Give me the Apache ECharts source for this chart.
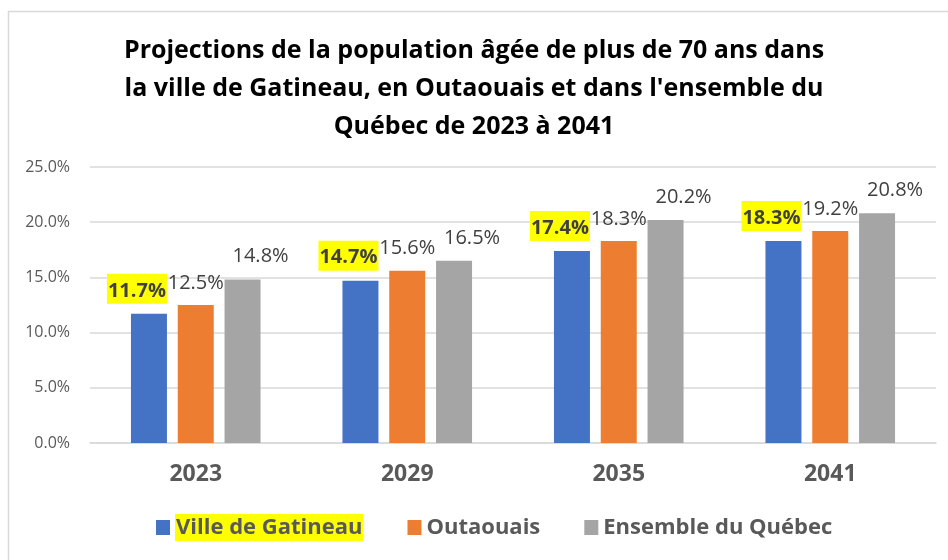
<!DOCTYPE html>
<html>
<head>
<meta charset="utf-8">
<script src="https://cdn.jsdelivr.net/npm/echarts@6/dist/echarts.min.js"></script>
<style>
  html, body { margin: 0; padding: 0; background: #fff; }
  #chart { width: 948px; height: 560px; }
</style>
</head>
<body>
<div id="chart"></div>
<script>
const years = ['2023', '2029', '2035', '2041']
const gatineau = [11.7, 14.7, 17.4, 18.3]
const outaouais = [12.5, 15.6, 18.3, 19.2]
const quebec = [14.8, 16.5, 20.2, 20.8]
const seriesNames = ['Ville de Gatineau', 'Outaouais', 'Ensemble du Québec']

const font = 'Open Sans'
const chart = echarts.init(document.getElementById('chart'))

const pct = p => p.value.toFixed(1) + '%'

const option = {
  animation: false,
  textStyle: { fontFamily: font },
  graphic: [{
    type: 'rect',
    shape: { x: 8.5, y: 11.5, width: 980, height: 600 },
    style: { fill: 'none', stroke: '#d9d9d9', lineWidth: 1.5 }
  }],
  title: {
    text: 'Projections de la population âgée de plus de 70 ans dans\nla ville de Gatineau, en Outaouais et dans l\'ensemble du\nQuébec de 2023 à 2041',
    left: 'center',
    top: 27,
    textStyle: {
      fontFamily: font,
      fontSize: 25,
      fontWeight: 'bold',
      color: '#000',
      lineHeight: 38
    }
  },
  legend: {
    data: seriesNames,
    bottom: 14,
    left: 151,
    icon: 'rect',
    itemWidth: 14,
    itemHeight: 15,
    itemGap: 44,
    formatter: name => name === seriesNames[0] ? '{hl|' + name + '}' : '{n|' + name + '}',
    textStyle: {
      rich: {
        hl: { fontFamily: font, fontSize: 22, fontWeight: 'bold', color: '#595959', backgroundColor: '#ffff00', padding: [3, 1, 2, 1] },
        n: { fontFamily: font, fontSize: 22, fontWeight: 'bold', color: '#595959' }
      }
    }
  },
  grid: {
    left: 90,
    right: 12,
    top: 167,
    bottom: 117
  },
  xAxis: {
    type: 'category',
    data: years,
    axisTick: { show: false },
    axisLine: { lineStyle: { color: '#d9d9d9', width: 1.5 } },
    axisLabel: { fontFamily: font, fontSize: 23, fontWeight: 'bold', color: '#595959', margin: 20 }
  },
  yAxis: {
    type: 'value',
    min: 0,
    max: 25,
    interval: 5,
    axisLabel: { fontFamily: font, fontSize: 16, color: '#595959', margin: 20, formatter: v => v.toFixed(1) + '%' },
    splitLine: { lineStyle: { color: '#d9d9d9', width: 1.5 } }
  },
  series: [
    {
      name: seriesNames[0],
      type: 'bar',
      data: gatineau,
      barWidth: 36,
      barGap: '30%',
      itemStyle: { color: '#4472c4' },
      label: {
        show: true,
        position: 'top',
        distance: 10,
        offset: [-12, 0],
        formatter: pct,
        fontFamily: font,
        fontSize: 20,
        fontWeight: 'bold',
        color: '#404040',
        backgroundColor: '#ffff00',
        padding: [7, 1, 3, 1]
      }
    },
    {
      name: seriesNames[1],
      type: 'bar',
      data: outaouais,
      barWidth: 36,
      barGap: '30%',
      itemStyle: { color: '#ed7d31' },
      label: {
        show: true,
        position: 'top',
        distance: 12,
        formatter: pct,
        fontFamily: font,
        fontSize: 20,
        color: '#404040'
      }
    },
    {
      name: seriesNames[2],
      type: 'bar',
      data: quebec,
      barWidth: 36,
      barGap: '30%',
      itemStyle: { color: '#a5a5a5' },
      label: {
        show: true,
        position: 'top',
        distance: 13,
        offset: [18, 0],
        formatter: pct,
        fontFamily: font,
        fontSize: 20,
        color: '#404040'
      }
    }
  ]
}

chart.setOption(option)
</script>
</body>
</html>
